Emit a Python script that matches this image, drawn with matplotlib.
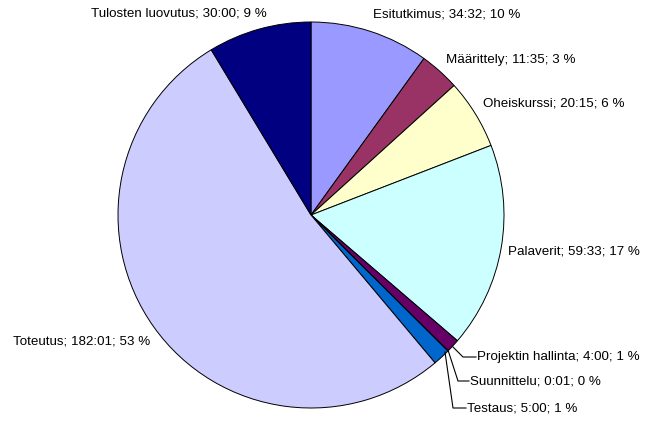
import matplotlib
matplotlib.use("Agg")
import matplotlib.pyplot as plt

categories = ["Esitutkimus", "Määrittely", "Oheiskurssi", "Palaverit",
              "Projektin hallinta", "Suunnittelu", "Testaus", "Toteutus",
              "Tulosten luovutus"]
times = ["34:32", "11:35", "20:15", "59:33", "4:00", "0:01", "5:00", "182:01", "30:00"]
percents = [10, 3, 6, 17, 1, 0, 1, 53, 9]
colors = ["#9999FF", "#993366", "#FFFFCC", "#CCFFFF", "#660066", "#FF8080",
          "#0066CC", "#CCCCFF", "#000080"]

def to_minutes(t):
    h, m = t.split(":")
    return int(h) * 60 + int(m)

values = [to_minutes(t) for t in times]

H = 444
fig = plt.figure(figsize=(6.48, 4.44), dpi=100)
ax = fig.add_axes([0, 0, 1, 1])

cx, cy, r = 311, H - 215, 193
ax.pie(values, colors=colors, startangle=90, counterclock=False,
       center=(cx, cy), radius=r, frame=True,
       wedgeprops=dict(edgecolor="black", linewidth=0.7))
ax.set_xlim(0, 648)
ax.set_ylim(0, H)
ax.set_aspect("equal")
ax.axis("off")

font = dict(family="Liberation Sans", fontsize=9.6, color="black")
labels = [f"{c}; {t}; {p} %" for c, t, p in zip(categories, times, percents)]

# simple labels (x, y-from-top, ha)
simple = {0: (373, 15, "left"), 1: (446, 60, "left"), 2: (483, 104, "left"),
          3: (508, 251, "left"), 7: (150, 341, "right"), 8: (267, 14, "right")}
for i, (x, y, ha) in simple.items():
    ax.text(x, H - y, labels[i], ha=ha, va="center", **font)

# leader-line labels (points given from top)
leaders = {4: [(453, 347), (463, 357), (476, 357)],
           5: [(448, 350), (458, 381), (469, 381)],
           6: [(445, 352), (453, 408), (466, 408)]}
for i, pts in leaders.items():
    xs = [p[0] for p in pts]
    ys = [H - p[1] for p in pts]
    ax.plot(xs, ys, color="black", linewidth=0.8)
    ax.text(xs[-1] + 1, ys[-1], labels[i], ha="left", va="center", **font)

fig.savefig("out.png", dpi=100)
